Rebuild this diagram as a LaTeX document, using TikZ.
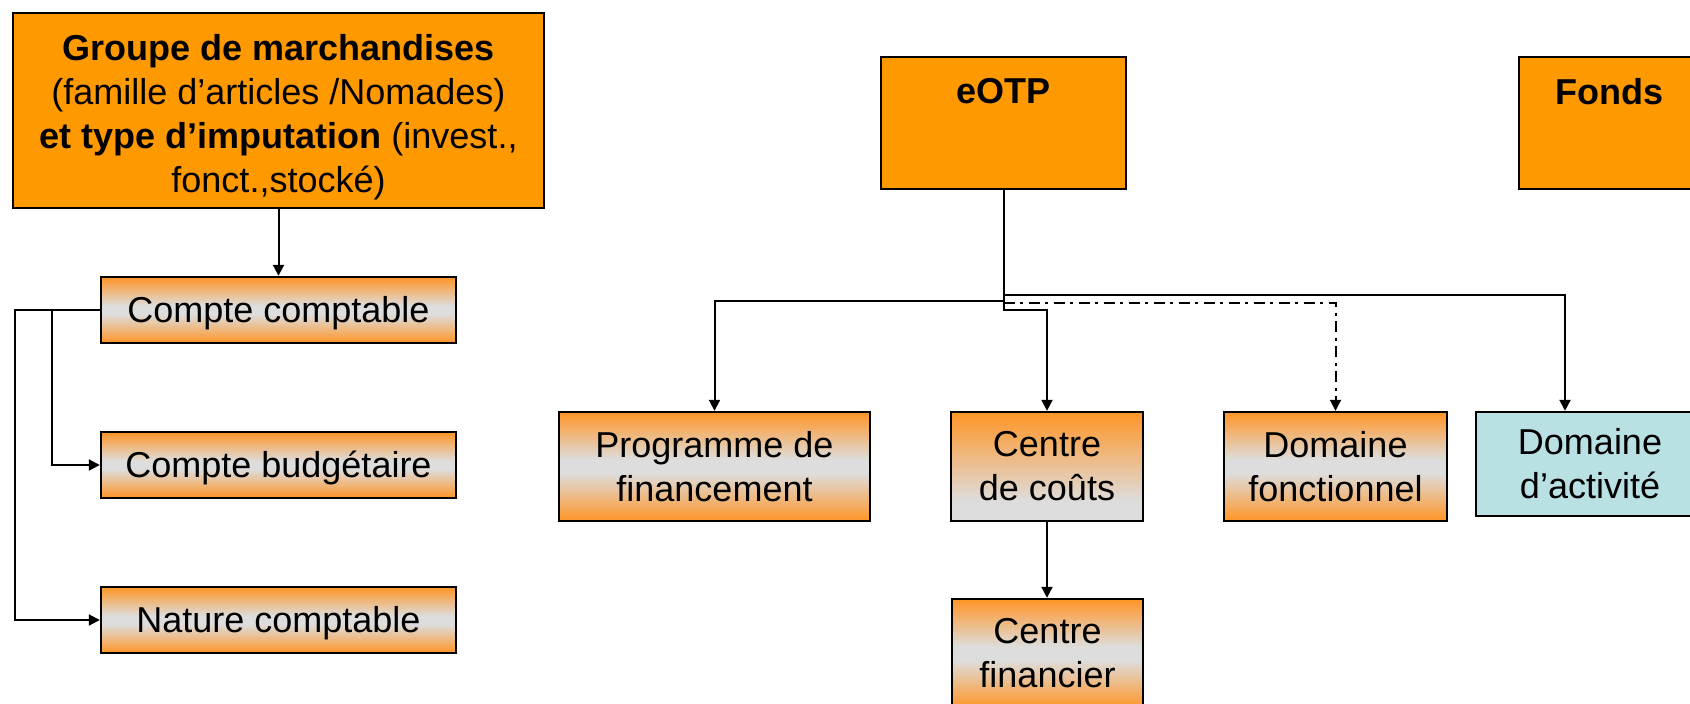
\documentclass[tikz,border=0pt]{standalone}
\usepackage{fontspec}
\setmainfont{Liberation Sans}
\usetikzlibrary{arrows.meta}

\definecolor{orangeplein}{HTML}{FF9900}
\definecolor{orangedeg}{HTML}{FF9526}
\definecolor{grisdeg}{HTML}{DDDDDD}
\definecolor{bleuclair}{HTML}{B9E0E3}

\pgfdeclareverticalshading{orgris}{100bp}{color(0bp)=(orangedeg); color(25bp)=(orangedeg);
  color(47bp)=(grisdeg); color(53bp)=(grisdeg); color(75bp)=(orangedeg); color(100bp)=(orangedeg)}
\pgfdeclareverticalshading{orbas}{100bp}{color(0bp)=(grisdeg); color(25bp)=(grisdeg);
  color(34bp)=(grisdeg); color(75bp)=(orangedeg); color(100bp)=(orangedeg)}

\begin{document}
\begin{tikzpicture}
  [x=0.5pt, y=-0.5pt,
   every node/.style={font=\fontsize{18}{22}\selectfont, align=center, inner sep=0pt},
   boite/.style={draw, line width=1.2pt, minimum height=54.5pt},
   degrade/.style={boite, shading=orgris, shading angle=0},
   degradebas/.style={boite, shading=orbas, shading angle=0},
   plein/.style={boite, fill=orangeplein},
   lien/.style={line width=1pt},
   fleche/.style={lien, -{Triangle[length=5.5pt,width=5.5pt]}},
   pointille/.style={dash pattern=on 5.5pt off 2.75pt on 1.5pt off 2.75pt}]
  \useasboundingbox (0,0) rectangle (1690,703);
  \clip (0,0) rectangle (1690,703);

  % gauche : article et comptes
  \node[plein, minimum width=265.5pt, minimum height=97.5pt] (groupe) at (278.5,110.5)
    {\rule{0pt}{20pt}\textbf{Groupe de marchandises}\\(famille d’articles /Nomades)\\\textbf{et type d’imputation} (invest.,\\fonct.,stocké)};
  \node[degrade, minimum width=177.5pt, minimum height=33pt, text height=16pt] (cpt) at (278.5,310) {Compte comptable};
  \node[degrade, minimum width=177.5pt, minimum height=33pt, text height=16pt] (budget) at (278.5,465) {Compte budgétaire};
  \node[degrade, minimum width=177.5pt, minimum height=33pt, text height=16pt] (nature) at (278.5,620) {Nature comptable};

  % droite : eOTP et objets derives
  \node[plein, minimum width=122.5pt, minimum height=66pt,
    label={[anchor=north, yshift=-11pt]north:\textbf{eOTP}}] (eotp) at (1003.5,123) {};
  \node[plein, minimum width=90.5pt, minimum height=66pt,
    label={[anchor=north, yshift=-11pt]north:\textbf{Fonds}}] (fonds) at (1609.5,123) {};
  \node[degrade, minimum width=155.5pt] (prog) at (714.5,466.5) {Programme de\\financement};
  \node[degradebas, minimum width=96pt] (cdc) at (1047,466.5) {Centre\\de coûts};
  \node[degrade, minimum width=111.5pt] (domfonc) at (1335.5,466.5) {Domaine\\fonctionnel};
  \node[boite, fill=bleuclair, minimum width=114pt, minimum height=52pt] (domact) at (1590,464) {Domaine\\d’activité};
  \node[degrade, minimum width=95.5pt] (cfin) at (1047.5,653.5) {Centre\\financier};

  \draw[fleche] (groupe) -- (cpt);
  \draw[fleche] (cpt.west) -- ++(-85,0) |- (nature.west);
  \draw[fleche] (cpt.west) ++(-48,0) |- (budget.west);

  \draw[fleche] (eotp.south) -- ++(0,120) -| (cdc.north);
  \draw[fleche] (eotp.south) ++(0,111) -| (prog.north);
  \draw[fleche] (eotp.south) ++(0,105) -| ([xshift=-12.5pt]domact.north);
  \draw[fleche, pointille] (eotp.south) ++(0,113) -| (domfonc.north);
  \draw[fleche] (cdc.south) -- (cdc.south |- cfin.north);
\end{tikzpicture}
\end{document}
